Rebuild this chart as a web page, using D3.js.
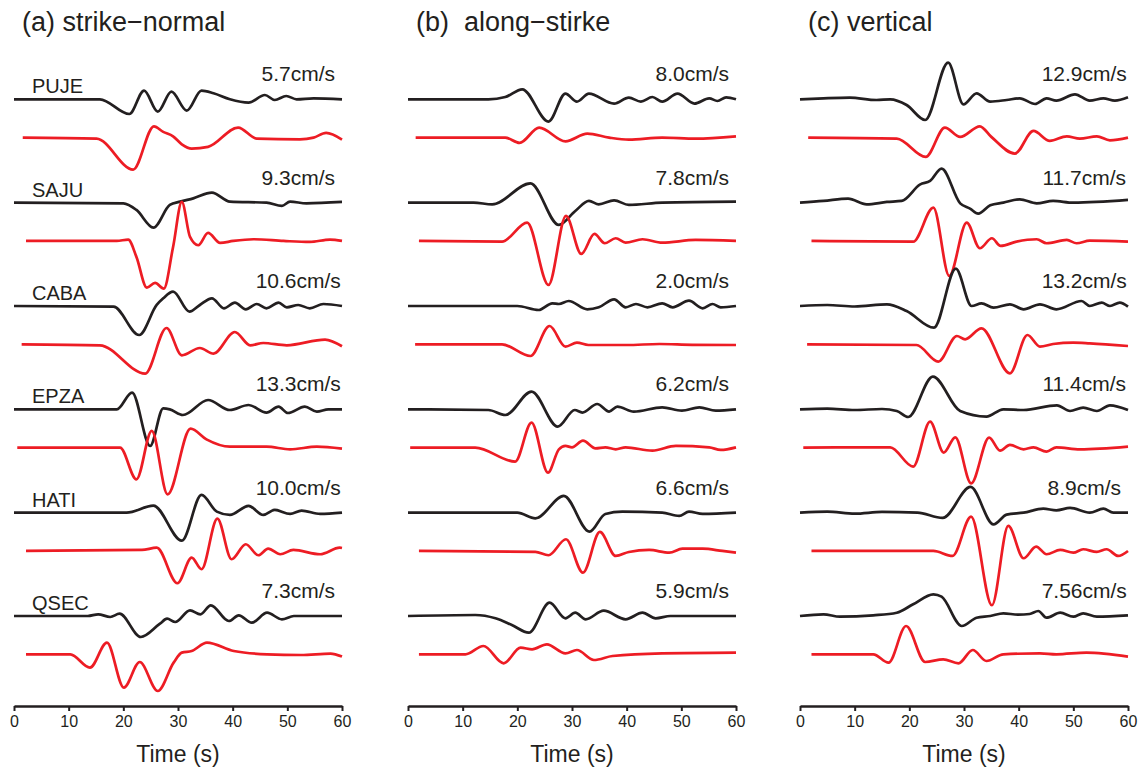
<!DOCTYPE html>
<html>
<head>
<meta charset="utf-8">
<script src="https://cdn.jsdelivr.net/npm/d3@7"></script>
<style>
  body { margin: 0; background: #fff; }
  svg text { font-family: "Liberation Sans", Arial, Helvetica, sans-serif; fill: #231f20; }
</style>
</head>
<body>
<div id="chart"></div>
<script>
// stations (top to bottom) and panel titles
const stations = ['PUJE', 'SAJU', 'CABA', 'EPZA', 'HATI', 'QSEC'];
const panelTitles = ['(a) strike\u2212normal', '(b)  along\u2212stirke', '(c) vertical'];
const timeTicks = [0, 10, 20, 30, 40, 50, 60];

// peak velocity labels per panel
const peaksA = ['5.7cm/s', '9.3cm/s', '10.6cm/s', '13.3cm/s', '10.0cm/s', '7.3cm/s'];
const peaksB = ['8.0cm/s', '7.8cm/s', '2.0cm/s', '6.2cm/s', '6.6cm/s', '5.9cm/s'];
const peaksC = ['12.9cm/s', '11.7cm/s', '13.2cm/s', '11.4cm/s', '8.9cm/s', '7.56cm/s'];

// waveforms: [time (s), relative amplitude] read at turning points
// (a) strike-normal
const aPUJEobs = [[0,0],[15.7,0],[21.1,-14.7],[23.8,8.7],[26.3,-12.3],[28.8,7.7],[31.6,-11.3],[34.3,8.7],[36.5,6],[39.5,0],[42.9,-3.3],[45.9,4.3],[47.7,-0.7],[49.8,3.3],[51.7,0],[54.8,1],[60,0]];
const aPUJEsyn = [[1.6,0],[15.1,-1],[21.8,-32],[25.6,11.3],[27.3,5.7],[29.1,1.3],[30.7,-6.7],[32.5,-11],[35.5,-9.3],[41,10],[44.4,-1],[52.3,-1.7],[54.8,0],[57.1,4.7],[60,-2]];
const aSAJUobs = [[0,0],[20,-0.7],[22.4,-7.3],[25.5,-25],[28.5,-2.3],[30.4,1],[32.8,4.3],[36.2,10],[39.5,1],[46.2,0],[49,-3.3],[50.5,1],[53.5,-0.7],[60,0.7]];
const aSAJUsyn = [[2.2,0],[18.8,0],[20.9,1.3],[22.4,-16],[24.3,-46.7],[25.8,-42],[27.4,-47.7],[29.1,-6],[30.7,39],[32.2,4],[33.7,-4.3],[35.5,8],[37.7,-2],[40.1,0],[43.8,1.7],[49.3,0],[54.1,-1],[57.8,1.3],[60,0]];
const aCABAobs = [[0,0],[18.2,-0.7],[22.9,-29],[26.1,1],[27.3,7.7],[29.1,14.3],[32.1,-5.7],[34,1],[36.2,7.7],[38.4,-2.3],[40.4,3.3],[42.4,-3.3],[44.4,2],[46.2,-2.3],[48.4,3.3],[49.9,-1.3],[52,1],[54.1,-2.3],[56.6,2],[60,0]];
const aCABAsyn = [[1.4,0],[15.7,-1],[24,-29.3],[27.9,16.3],[30.7,-11],[34,-3.7],[36.5,-9.3],[40.4,12.3],[43.2,-1],[45.6,1.3],[49.9,-1],[56.9,4.7],[60,-2]];
const aEPZAobs = [[0,0],[18.8,0],[21.6,16.7],[24.9,-36.7],[27.3,1],[28.5,0],[30.9,-5.7],[35.5,9.3],[39.5,-0.7],[42.9,4.3],[46.2,-3.3],[48.4,2.7],[50.1,-3.7],[53.2,2.7],[55.4,-2.3],[57.5,0],[60,0]];
const aEPZAsyn = [[0.6,0],[19.4,0],[22.4,-31.7],[25.2,16.7],[28.1,-46.7],[32.3,19],[35.2,8.3],[39.5,1],[46.2,1],[50.5,-1.7],[55.4,1],[60,-1]];
const aHATIobs = [[0,0],[20.6,0],[25.5,7],[30.7,-28],[34.3,17.7],[37.1,1],[39.5,-2.3],[42.9,6.7],[45.6,-2.3],[47.7,2.7],[50.5,-1.3],[52.6,2],[56,-1.3],[60,0]];
const aHATIsyn = [[2.2,0],[23.4,1],[26.1,3.3],[29.9,-32.3],[32.5,-6.7],[34.3,-18.3],[37.2,32.3],[39.8,-8.3],[42.4,6.7],[44.7,-4.3],[46.5,2.3],[48.7,-3.3],[51.1,1],[56,-3.3],[59.6,3.3],[60,3]];
const aQSECobs = [[0,0],[13.5,0],[15.4,1.7],[17.6,-1],[19.3,2.3],[23.2,-21],[26.7,-7.7],[28,-2.7],[29.5,-6],[32.2,5.7],[34.1,1.7],[36,10.7],[39.3,-5],[41.1,0.7],[43.5,-6.7],[46.3,3.3],[49,-3.3],[51.2,0],[60,0]];
const aQSECsyn = [[2.2,0],[10.3,0],[13.9,-13.3],[17,11.7],[20.1,-33.3],[23,-7.7],[26.3,-36.7],[29.2,-8.3],[30.7,1.7],[32.5,3.3],[35.3,11.7],[40.2,3.3],[46.3,0],[52.5,-0.7],[57.9,0.7],[60,-2.3]];

// (b) along-strike
const bPUJEobs = [[0,0],[14.7,0],[17.8,2.3],[20.9,10],[25.7,-22.3],[28.8,5.7],[30.9,-2.3],[33.1,5.7],[37.7,-4.3],[40.4,1.7],[42.6,-2.3],[44.7,2.3],[46.5,-2.3],[49.3,5.7],[52.4,-4.3],[55.1,1],[56.6,-1.7],[58.2,2],[60,0]];
const bPUJEsyn = [[1.4,0],[17.8,0],[20.4,-5.3],[24,10],[28.8,-3.7],[32.8,4],[36.8,0],[40.4,-2],[46.5,0],[52.6,-1],[60,1.3]];
const bSAJUobs = [[0,0],[12,0],[15.4,-1.7],[22.4,19.3],[27.6,-22.3],[30.6,-8.3],[33.1,1.7],[34.9,-1.7],[37.7,2.3],[40.4,-2.3],[46.5,0],[60,1]];
const bSAJUsyn = [[2,0],[17.2,-0.7],[21.8,18.3],[25.7,-44],[28.9,25],[31.7,-13],[34.1,7],[36,-2.3],[38,2.7],[39.8,-1.7],[42.9,1.7],[46.5,-1.7],[52.6,1],[60,0]];
const bCABAobs = [[0,0],[20,0],[23.9,-4],[26.4,2.7],[27.6,2],[29.4,5],[32.8,-3.3],[34.9,-1.3],[37.7,6.7],[39.8,-1.3],[41.7,2],[43.8,-1.3],[46.5,2.7],[48.4,-1.3],[51.4,5.3],[53.9,-2.3],[55.7,2],[57.2,-1.3],[60,0]];
const bCABAsyn = [[1.3,0],[17.2,0],[22.4,-11.7],[25.9,18.3],[28.8,-2.3],[30.9,1.7],[33,-0.7],[40,-0.7],[46,0.3],[52,-0.5],[60,-0.7]];
const bEPZAobs = [[0,0],[14.7,-0.7],[17.8,-5.7],[22.6,17.7],[27.4,-17.3],[30.5,-0.7],[31.9,-3.3],[34.6,5.3],[36.8,-2.3],[38.3,2.7],[41.3,-2.3],[46.5,2],[50.1,-1.3],[53.3,2],[56.3,-1.3],[60,0]];
const bEPZAsyn = [[0.4,0],[12.3,0],[19.6,-14],[22.6,25],[25.6,-25],[27.6,-1.7],[28.8,1.7],[30,0.3],[32,7],[34.3,-0.7],[36.1,0.3],[38,-1.7],[39.8,0.3],[44.7,-3],[49,1.7],[55.1,0.3],[57.2,-2.3],[60,0.3]];
const bHATIobs = [[0,0],[20,0],[23.3,-5.7],[28.5,16.7],[33.2,-19],[36.1,-1.3],[39.2,1],[46.5,0],[49.6,-3.3],[51.4,1],[53.9,-1.3],[60,0]];
const bHATIsyn = [[2,0],[23.3,-1],[25.7,-4.3],[28.9,11.7],[32,-21.7],[35.1,19],[38,-5],[40.4,-1],[44.1,1],[47.8,-1.7],[50.2,2.3],[53.9,2.3],[57.5,0],[60,-1.7]];
const bQSECobs = [[0,0],[12.3,1],[16,-2.3],[19,-9],[22.1,-16.7],[25.9,13.3],[28.8,-2.3],[30.6,3.3],[32.5,-3.3],[35.8,5.3],[39.8,-3.3],[42.9,3.3],[45.3,-2.3],[48,0],[60,0]];
const bQSECsyn = [[2,0],[10.5,0],[13.8,8.3],[17.5,-9],[20.6,6.7],[22.7,5],[25.4,10],[28.8,1],[30.9,4.3],[34,-5.7],[37.4,-1.7],[46.5,1],[60,1.7]];

// (c) vertical
const cPUJEobs = [[0,0],[4.3,1],[9.1,1.7],[14,-0.7],[16.5,0],[19.5,-5.7],[22.9,-20.7],[27.1,36.7],[29.9,-5],[32.3,6],[34.8,-2.3],[37.8,-0.7],[40.2,1],[43,-4.7],[45.1,1],[46.9,-1.3],[50.3,5],[53,-1.3],[55.5,1],[57.6,-1.3],[60,2]];
const cPUJEsyn = [[1.5,0],[17.7,-1],[23,-19.3],[26.5,10],[29.3,0.7],[32.9,11.3],[35,0.7],[39.3,-16],[42.7,6.7],[45.7,-3.3],[48.8,1.3],[51.2,-1],[54.3,1.3],[56.7,-2.7],[60,0]];
const cSAJUobs = [[0,0],[4.3,1.7],[8.8,4],[12.2,-1.7],[15.9,0.7],[18.6,1.7],[22,18.3],[23.8,21.7],[25.9,34],[29.3,-0.7],[31.1,-6],[32.6,-11],[34.8,-2.7],[37.2,0],[40.2,3.3],[43.3,-0.7],[46.3,1.7],[50,0],[60,2.7]];
const cSAJUsyn = [[2.1,0],[20.7,-0.7],[24.4,33.3],[27.3,-35],[30.5,18.3],[32.9,-7.3],[35.1,2.7],[36.7,-5],[39.6,-0.7],[43.3,1.7],[45.1,-2.3],[48.8,1],[50.6,-2.3],[53,0.3],[60,-0.7]];
const cCABAobs = [[0,0],[5,1],[10,-0.5],[15.9,1.7],[19.5,-5],[24.5,-21.7],[28.5,37.3],[31.4,0],[33.2,2.7],[35.4,-1.7],[38.4,1.7],[40.9,-3.3],[43.9,1.7],[46.9,-3.3],[51.5,5],[53,0],[55.2,3.3],[56.7,0],[58.5,3.3],[60,-0.7]];
const cCABAsyn = [[1.3,0],[21.3,-0.7],[25.3,-17.3],[28.7,8.3],[30.2,5],[33.2,16],[38.4,-29],[41.6,9.3],[43.9,-2.3],[46.3,0.3],[50,1.7],[53,1],[60,-1.7]];
const cEPZAobs = [[0,0],[5,0.7],[10,-0.7],[15,0.3],[17.7,-1.7],[19.8,-7.7],[24.3,32.7],[29.3,-1.7],[34.1,-7.3],[37.2,0],[40.9,-0.7],[47,4],[49.4,-1.7],[51.8,1.7],[54.3,-1.7],[56.7,4],[60,-0.7]];
const cEPZAsyn = [[0.6,0],[16.5,0.3],[20.7,-19],[23.8,26],[26.3,-5],[28.4,10.3],[31.3,-35.7],[34.6,10],[36.6,-3],[38.4,2.7],[40.9,-1.7],[42.7,0.3],[45.1,-4],[46.9,0.3],[51.2,-1.7],[60,1]];
const cHATIobs = [[0,0],[5,1],[10,-1],[15,0.7],[21.5,0],[26.1,-5.3],[31.2,25.7],[35.4,-11.7],[37.8,-2],[40.9,0],[44.5,4],[46.9,2.3],[49.4,4.7],[53,0],[55.5,4],[57.3,0],[60,0]];
const cHATIsyn = [[2.1,0],[24.4,0],[27.9,-5],[31.3,34.3],[35.1,-54.3],[38.1,25],[40.9,-7.3],[43.2,4.3],[45.1,-3.3],[47.6,1],[50,-1.7],[51.8,1.7],[54.3,-1],[56.1,1.7],[58.2,-5],[60,0]];
const cQSECobs = [[0,0],[4.3,1.7],[7.3,-0.7],[13.4,0.7],[17.7,3.3],[20.7,11.7],[24.4,21.7],[25.9,19.3],[29.6,-10],[32.3,-1.7],[34.8,0],[37.2,2.7],[39.9,1.3],[42,2],[43.6,5],[45.1,-1.7],[47.6,3.3],[50,-0.7],[51.8,2.7],[54.3,-0.7],[60,0.7]];
const cQSECsyn = [[2.1,0],[13.4,0],[16.2,-8.3],[19.4,28.3],[22.9,-7.7],[26.2,-5],[29,-9],[31.6,4.3],[34.1,-6.7],[37.2,0],[43.9,1],[46.9,0],[52.4,1.7],[60,-2.3]];

// table built from the arrays above
const panels = [
  { title: panelTitles[0], peaks: peaksA, names: true,
    obs: [aPUJEobs, aSAJUobs, aCABAobs, aEPZAobs, aHATIobs, aQSECobs],
    syn: [aPUJEsyn, aSAJUsyn, aCABAsyn, aEPZAsyn, aHATIsyn, aQSECsyn] },
  { title: panelTitles[1], peaks: peaksB, names: false,
    obs: [bPUJEobs, bSAJUobs, bCABAobs, bEPZAobs, bHATIobs, bQSECobs],
    syn: [bPUJEsyn, bSAJUsyn, bCABAsyn, bEPZAsyn, bHATIsyn, bQSECsyn] },
  { title: panelTitles[2], peaks: peaksC, names: false,
    obs: [cPUJEobs, cSAJUobs, cCABAobs, cEPZAobs, cHATIobs, cQSECobs],
    syn: [cPUJEsyn, cSAJUsyn, cCABAsyn, cEPZAsyn, cHATIsyn, cQSECsyn] }
];

const width = 1143, height = 771;
const panelLeft = [14, 408, 800];
const panelWidth = 328;
const axisY = 706;
const black = '#231f20', red = '#ed1c24';

const svg = d3.select('#chart').append('svg')
  .attr('width', width)
  .attr('height', height);

// vertical layout: one slot per station, synthetic trace below observed
const stationY = d3.scalePoint().domain(stations).range([99.3, 616]);
const compY = d3.scalePoint().domain(['obs', 'syn']).range([0, 38.3]);
const amp = d3.scaleLinear().domain([-50, 50]).range([50, -50]);
const x = d3.scaleLinear().domain([0, 60]).range([0, panelWidth]);

const line = d3.line()
  .x(d => x(d[0]))
  .y(d => amp(d[1]))
  .curve(d3.curveMonotoneX);

panels.forEach((p, pi) => {
  const g = svg.append('g').attr('transform', `translate(${panelLeft[pi]},0)`);

  // panel title
  g.append('text')
    .attr('x', 8)
    .attr('y', 31)
    .style('font-size', '27px')
    .style('white-space', 'pre')
    .text(p.title);

  stations.forEach((s, i) => {
    const y0 = stationY(s);

    if (p.names) {
      g.append('text')
        .attr('x', 18)
        .attr('y', y0 - 6)
        .style('font-size', '20px')
        .text(s);
    }

    g.append('text')
      .attr('x', x(52))
      .attr('y', y0 - 18)
      .attr('text-anchor', 'middle')
      .style('font-size', '21px')
      .text(p.peaks[i]);

    g.append('path')
      .datum(p.obs[i])
      .attr('transform', `translate(0,${y0 + compY('obs')})`)
      .attr('fill', 'none')
      .attr('stroke', black)
      .attr('stroke-width', 2.7)
      .attr('stroke-linejoin', 'round')
      .attr('d', line);

    g.append('path')
      .datum(p.syn[i])
      .attr('transform', `translate(0,${y0 + compY('syn')})`)
      .attr('fill', 'none')
      .attr('stroke', red)
      .attr('stroke-width', 2.7)
      .attr('stroke-linejoin', 'round')
      .attr('d', line);
  });

  // time axis
  const axis = g.append('g')
    .attr('transform', `translate(0,${axisY})`)
    .call(d3.axisBottom(x).tickValues(timeTicks).tickSize(5).tickSizeOuter(0).tickPadding(5));
  axis.select('.domain').attr('stroke', black).attr('stroke-width', 2.6);
  axis.selectAll('.tick line').attr('stroke', black).attr('stroke-width', 2);
  axis.selectAll('.tick text')
    .style('font-size', '16px')
    .style('font-family', '"Liberation Sans", Arial, Helvetica, sans-serif')
    .attr('fill', black);

  g.append('text')
    .attr('x', panelWidth / 2)
    .attr('y', 762)
    .attr('text-anchor', 'middle')
    .style('font-size', '23px')
    .text('Time (s)');
});
</script>
</body>
</html>
